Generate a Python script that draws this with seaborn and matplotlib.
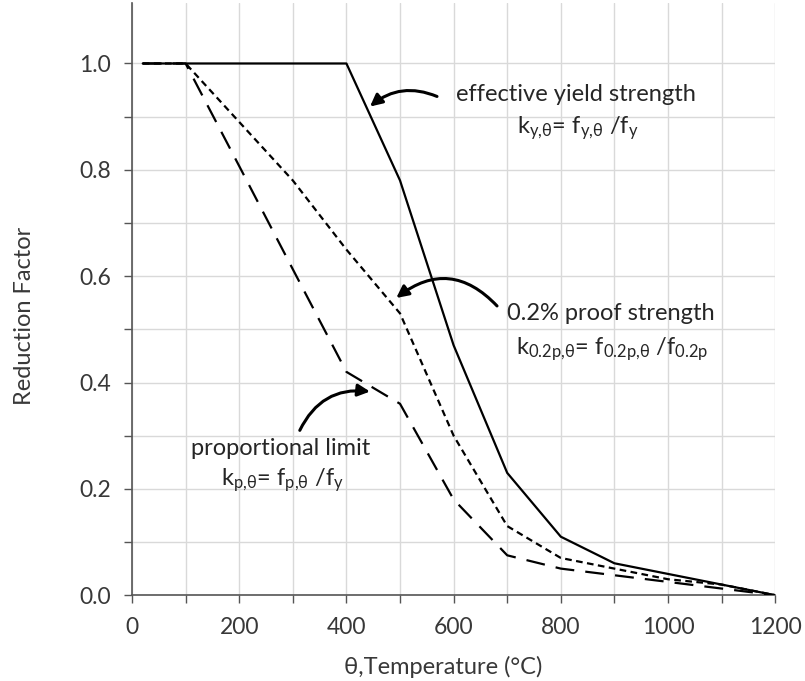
import numpy as np
import pandas as pd
import matplotlib
matplotlib.use("Agg")
import matplotlib.pyplot as plt
import seaborn as sns

temps = [20, 100, 200, 300, 400, 500, 600, 700, 800, 900, 1000, 1100, 1200]
k_y = [1.0, 1.0, 1.0, 1.0, 1.0, 0.78, 0.47, 0.23, 0.11, 0.06, 0.04, 0.02, 0.0]
k_02p = [1.0, 1.0, 0.89, 0.78, 0.65, 0.53, 0.30, 0.13, 0.07, 0.05, 0.03, 0.02, 0.0]
k_p = [1.0, 1.0, 0.807, 0.613, 0.42, 0.36, 0.18, 0.075, 0.05, 0.0375, 0.025, 0.0125, 0.0]
series_names = ["effective yield strength", "0.2% proof strength", "proportional limit"]
x_ticks = [0, 200, 400, 600, 800, 1000, 1200]
y_ticks = [0.0, 0.2, 0.4, 0.6, 0.8, 1.0]

sns.set_theme(style="white")
plt.rcParams["font.family"] = ["Lato", "DejaVu Sans"]
plt.rcParams["mathtext.fontset"] = "custom"
plt.rcParams["mathtext.rm"] = "Lato"
plt.rcParams["mathtext.it"] = "Lato"
plt.rcParams["mathtext.bf"] = "Lato"

df = pd.DataFrame({
    "T": temps * 3,
    "k": k_y + k_02p + k_p,
    "series": sum([[n] * len(temps) for n in series_names], []),
})

fig = plt.figure(figsize=(8.05, 6.81), dpi=100)
ax = fig.add_axes([0.164, 0.126, 0.799, 0.869])

dashes = {series_names[0]: "", series_names[1]: (3, 2), series_names[2]: (8.5, 5)}
sns.lineplot(data=df, x="T", y="k", hue="series", style="series",
             palette={n: "black" for n in series_names}, dashes=dashes,
             legend=False, ax=ax, linewidth=1.6, zorder=3)

tick_c = "#383838"
ax.set_xlim(0, 1200)
ax.set_ylim(0, 1.113)
ax.set_xticks(x_ticks)
ax.set_yticks(y_ticks)
ax.set_xticks(np.arange(0, 1201, 100), minor=True)
ax.set_yticks(np.arange(0, 1.05, 0.1), minor=True)
ax.set_yticklabels([f"{v:.1f}" for v in y_ticks], fontsize=16.5, color=tick_c)
ax.set_xticklabels([str(v) for v in x_ticks], fontsize=16.5, color=tick_c)
ax.grid(which="both", color="#d9d9d9", linewidth=1, zorder=0)
ax.tick_params(which="both", direction="out", color="#555555", length=6, width=1,
               left=True, bottom=True)
ax.tick_params(axis="x", pad=10)
ax.tick_params(axis="y", pad=9)
for s in ["top", "right"]:
    ax.spines[s].set_visible(False)
for s in ["left", "bottom"]:
    ax.spines[s].set_color("#555555")
    ax.spines[s].set_linewidth(1.2)

ax.set_xlabel("θ,Temperature (°C)", fontsize=17, color=tick_c, va="top")
ax.set_ylabel("Reduction Factor", fontsize=17, color=tick_c)
ax.xaxis.set_label_coords(0.484, -0.102)
ax.yaxis.set_label_coords(-0.151, 0.472)

tc = "#262626"
fs = 17
ax.text(829, 0.942, "effective yield strength", fontsize=fs, color=tc, ha="center", va="center")
ax.text(832, 0.878, r"k$_{\mathrm{y{,}θ}}$= f$_{\mathrm{y{,}θ}}$ /f$_{\mathrm{y}}$", fontsize=fs, color=tc, ha="center", va="center")
ax.text(893, 0.529, "0.2% proof strength", fontsize=fs, color=tc, ha="center", va="center")
ax.text(896, 0.463, r"k$_{\mathrm{0.2p{,}θ}}$= f$_{\mathrm{0.2p{,}θ}}$ /f$_{\mathrm{0.2p}}$", fontsize=fs, color=tc, ha="center", va="center")
ax.text(278, 0.276, "proportional limit", fontsize=fs, color=tc, ha="center", va="center")
ax.text(281, 0.216, r"k$_{\mathrm{p{,}θ}}$= f$_{\mathrm{p{,}θ}}$ /f$_{\mathrm{y}}$", fontsize=fs, color=tc, ha="center", va="center")

arrow = dict(arrowstyle="-|>", color="black", lw=2.2, mutation_scale=18, shrinkA=0, shrinkB=0)
ax.annotate("", xy=(444, 0.919), xytext=(569, 0.938),
            arrowprops=dict(arrow, connectionstyle="arc3,rad=0.3"))
ax.annotate("", xy=(493, 0.559), xytext=(681, 0.544),
            arrowprops=dict(arrow, connectionstyle="arc3,rad=0.45"))
ax.annotate("", xy=(444, 0.383), xytext=(313, 0.31),
            arrowprops=dict(arrow, connectionstyle="arc3,rad=-0.35"))

fig.savefig("out.png", dpi=100)
